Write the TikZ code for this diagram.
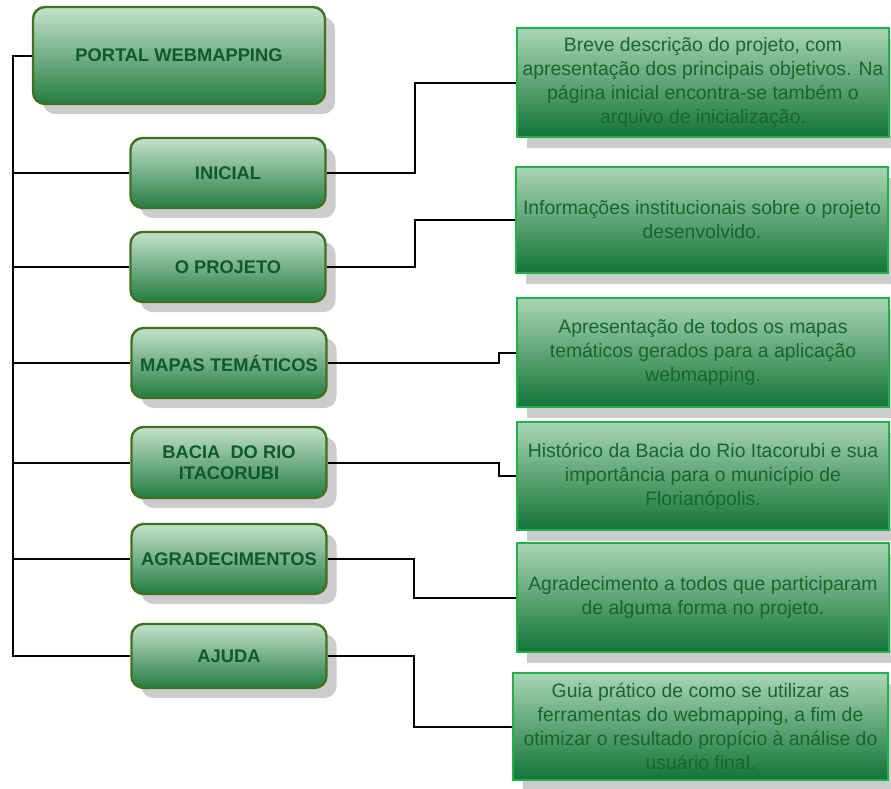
\documentclass[tikz,border=0pt]{standalone}
\usepackage{fontspec}
\setmainfont{Liberation Sans}
\usetikzlibrary{shadows}
\definecolor{menuborder}{HTML}{41701F}
\definecolor{menutext}{HTML}{0D5A2A}
\definecolor{descborder}{HTML}{22B04B}
\definecolor{desctext}{HTML}{17662F}
\begin{document}
\begin{tikzpicture}[x=1pt,y=-1pt,
  menu/.style={draw=menuborder, line width=2.4pt, rounded corners=12pt, shading=axis,
    top color={rgb,255:red,196;green,226;blue,204},
    middle color={rgb,255:red,88;green,166;blue,114},
    bottom color={rgb,255:red,36;green,124;blue,66},
    drop shadow={shadow xshift=10pt, shadow yshift=-10pt, fill=black!20, opacity=1},
    text=menutext, font=\fontsize{18.3}{21}\selectfont\bfseries, align=center,
    minimum width=195pt, minimum height=70pt, inner sep=0pt},
  desc/.style={draw=descborder, line width=2.4pt, shading=axis,
    top color={rgb,255:red,170;green,213;blue,180},
    middle color={rgb,255:red,70;green,156;blue,98},
    bottom color={rgb,255:red,18;green,116;blue,56},
    drop shadow={shadow xshift=10pt, shadow yshift=-11pt, fill=black!20, opacity=1},
    text=desctext, font=\fontsize{19.4}{24}\selectfont, align=center,
    minimum width=372pt, minimum height=109pt, inner sep=0pt},
  link/.style={line width=2pt, black}]
\useasboundingbox (0,0) rectangle (891,788);
% menu
\node[menu, minimum width=292pt, minimum height=97pt] (portal) at (179,55.5) {PORTAL WEBMAPPING};
\node[menu] (ini) at (228,173) {INICIAL};
\node[menu] (proj) at (228,267) {O PROJETO};
\node[menu] (mapas) at (229,363) {MAPAS TEMÁTICOS};
\node[menu, minimum height=71pt] (bacia) at (229,462.5) {BACIA~~DO RIO\\ITACORUBI};
\node[menu] (agr) at (229,559) {AGRADECIMENTOS};
\node[menu, minimum height=64pt] (ajuda) at (229,656) {AJUDA};
% descricoes
\node[desc] (d1) at (703,82.5) {Breve descrição do projeto, com\\apresentação dos principais objetivos. Na\\página inicial encontra-se também o\\arquivo de inicialização.};
\node[desc, minimum height=106pt] (d2) at (702,220) {Informações institucionais sobre o projeto\\desenvolvido.};
\node[desc] (d3) at (703,352.5) {Apresentação de todos os mapas\\temáticos gerados para a aplicação\\webmapping.};
\node[desc, minimum height=108pt] (d4) at (703,476) {Histórico da Bacia do Rio Itacorubi e sua\\importância para o município de\\Florianópolis.};
\node[desc] (d5) at (703,597.5) {Agradecimento a todos que participaram\\de alguma forma no projeto.};
\node[desc, minimum width=375pt, minimum height=107pt] (d6) at (700.5,726.5) {Guia prático de como se utilizar as\\ferramentas do webmapping, a fim de\\otimizar o resultado propício à análise do\\usuário final.};
% ligacoes
\draw[link] (portal.west) -- ++(-19,0) coordinate (tr) |- (ajuda.west);
\foreach \n in {ini,proj,mapas,bacia,agr}
  \draw[link] (tr |- \n.west) -- (\n.west);
\draw[link] (ini.east) -- ++(88,0) |- (d1.west);
\draw[link] (proj.east) -- ++(88,0) |- (d2.west);
\draw[link] (mapas.east) -- ++(171,0) |- (d3.west);
\draw[link] (bacia.east) -- ++(171,0) |- (d4.west);
\draw[link] (agr.east) -- ++(86,0) |- (d5.west);
\draw[link] (ajuda.east) -- ++(86,0) |- (d6.west);
\end{tikzpicture}
\end{document}
